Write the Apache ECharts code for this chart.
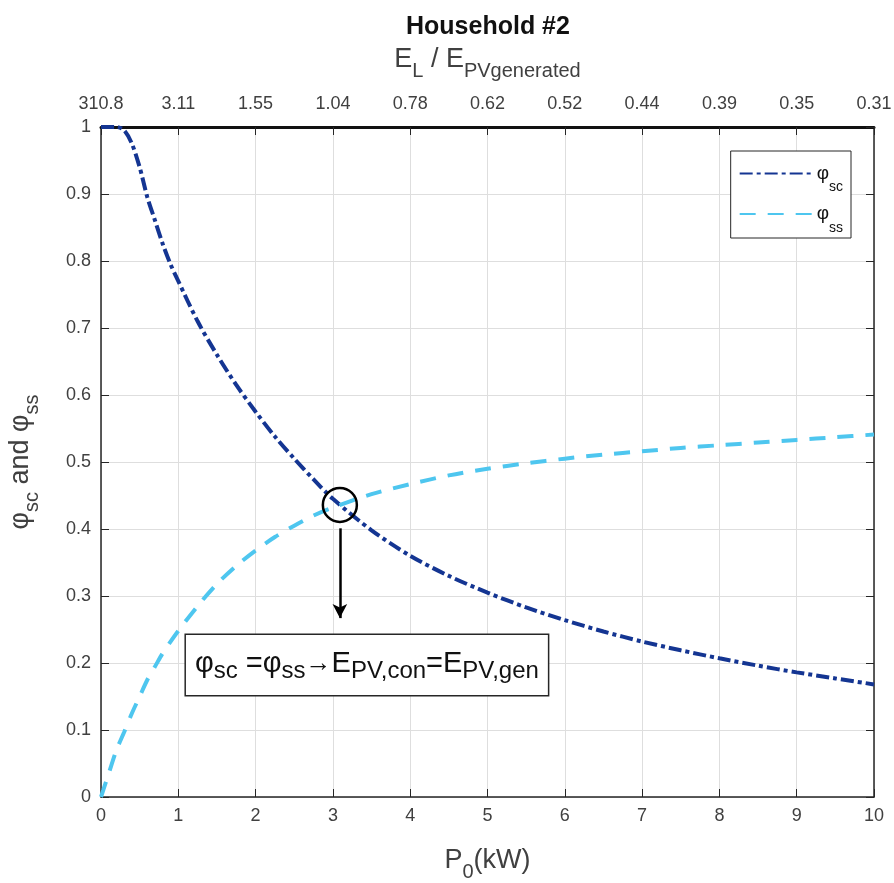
<!DOCTYPE html>
<html>
<head>
<meta charset="utf-8">
<script src="https://cdn.jsdelivr.net/npm/echarts@6/dist/echarts.min.js"></script>
<style>
  html, body { margin: 0; padding: 0; background: #fff; }
  #chart { width: 894px; height: 883px; }
</style>
</head>
<body>
<div id="chart"></div>
<script>
// Installed PV power P0 (kW)
const p0 = [0, 0.1, 0.2, 0.3, 0.4, 0.5, 0.6, 0.7, 0.8, 0.9, 1.0, 1.25, 1.5, 1.75, 2, 2.25, 2.5, 2.75, 3, 3.5, 4, 4.5, 5, 5.5, 6, 6.5, 7, 7.5, 8, 8.5, 9, 9.5, 10];
// Self-consumption ratio
const phiSC = [1, 1, 1, 0.995, 0.975, 0.94, 0.895, 0.86, 0.825, 0.795, 0.77, 0.71, 0.66, 0.615, 0.575, 0.538, 0.505, 0.474, 0.445, 0.398, 0.36, 0.33, 0.305, 0.283, 0.264, 0.247, 0.232, 0.219, 0.207, 0.196, 0.186, 0.177, 0.168];
// Self-sufficiency ratio
const phiSS = [0, 0.035, 0.07, 0.097, 0.125, 0.15, 0.175, 0.195, 0.215, 0.232, 0.248, 0.285, 0.318, 0.345, 0.368, 0.388, 0.405, 0.42, 0.432, 0.452, 0.467, 0.48, 0.49, 0.498, 0.505, 0.511, 0.516, 0.521, 0.525, 0.529, 0.533, 0.537, 0.541];
// Upper axis: E_L / E_PVgenerated at each integer P0
const ratioLabels = ['310.8', '3.11', '1.55', '1.04', '0.78', '0.62', '0.52', '0.44', '0.39', '0.35', '0.31'];
// Crossing point of the two ratios
const crossing = [3.09, 0.436];

const FONT = '"Liberation Sans", Arial, sans-serif';
const AX = '#262626';
const TXT = '#404040';

// Subscript styling: the main token sets a tall line and sits in its middle,
// the subscript token hangs at the bottom of that line.
const subRich = {
  m: { fontFamily: FONT, fontSize: 27, color: TXT, lineHeight: 42, verticalAlign: 'middle' },
  s: { fontFamily: FONT, fontSize: 20, color: TXT, lineHeight: 20, verticalAlign: 'bottom' }
};

const chart = echarts.init(document.getElementById('chart'));

function mkSeries(name, vals, color, dash) {
  return {
    name: name,
    type: 'line',
    xAxisIndex: 0,
    yAxisIndex: 0,
    data: p0.map((x, i) => [x, vals[i]]),
    showSymbol: false,
    symbol: 'none',
    smooth: 0.3,
    lineStyle: { color: color, width: 4, type: dash },
    itemStyle: { color: color }
  };
}

const scSeries = mkSeries('φsc', phiSC, '#143592', [13, 4, 4, 4]);
scSeries.markPoint = {
  silent: true,
  data: [
    {
      coord: crossing,
      symbol: 'circle',
      symbolSize: 34,
      itemStyle: { color: 'rgba(0,0,0,0)', borderColor: '#000', borderWidth: 2.5 },
      label: { show: false }
    },
    {
      coord: [3.44, 0.197],
      symbol: 'circle',
      symbolSize: 0,
      label: {
        show: true,
        position: 'inside',
        formatter: '{m|φ}{s|sc}{m| =φ}{s|ss}{a|→}{m|E}{s|PV,con}{m|=E}{s|PV,gen}',
        backgroundColor: '#fff',
        borderColor: '#262626',
        borderWidth: 1.5,
        padding: [10, 9, 12, 9],
        rich: {
          m: { fontFamily: FONT, fontSize: 29, color: '#111', lineHeight: 38, verticalAlign: 'middle' },
          a: { fontFamily: FONT, fontSize: 26, color: '#111', lineHeight: 38, verticalAlign: 'middle' },
          s: { fontFamily: FONT, fontSize: 24, color: '#111', lineHeight: 28, verticalAlign: 'bottom' }
        }
      }
    }
  ]
};
scSeries.markLine = {
  silent: true,
  symbol: ['none', 'arrow'],
  symbolSize: [11, 14],
  label: { show: false },
  lineStyle: { color: '#000', width: 2.5, type: 'solid' },
  data: [[{ coord: [crossing[0], 0.401] }, { coord: [crossing[0], 0.267] }]]
};

const ssSeries = mkSeries('φss', phiSS, '#4ec6ef', [16, 12]);

chart.setOption({
  animation: false,
  backgroundColor: '#fff',
  title: {
    text: 'Household #2',
    left: 401,
    top: 10,
    textStyle: { fontFamily: FONT, fontSize: 25, fontWeight: 'bold', color: '#111' }
  },
  legend: {
    right: 43,
    top: 151,
    orient: 'vertical',
    itemWidth: 72,
    itemHeight: 14,
    itemGap: 10,
    padding: [13, 8, 3, 8],
    borderColor: '#262626',
    borderWidth: 1,
    backgroundColor: '#fff',
    data: ['φsc', 'φss'],
    itemStyle: { opacity: 0 },
    formatter: function (n) { return '{m|φ}{s|' + n.slice(1) + '}'; },
    textStyle: {
      rich: {
        m: { fontFamily: FONT, fontSize: 19, color: '#111', lineHeight: 42, verticalAlign: 'middle' },
        s: { fontFamily: FONT, fontSize: 14, color: '#111', lineHeight: 22, verticalAlign: 'bottom' }
      }
    }
  },
  grid: { left: 101, right: 20, top: 127, bottom: 86, containLabel: false, outerBoundsMode: 'none' },
  xAxis: [
    {
      type: 'value', position: 'bottom', min: 0, max: 10, interval: 1,
      name: '{m|P}{s|0}{m|(kW)}', nameLocation: 'middle', nameGap: 43,
      nameTextStyle: { rich: subRich },
      axisLine: { show: true, onZero: false, lineStyle: { color: AX, width: 1.5 } },
      axisTick: { show: true, inside: true, length: 8, lineStyle: { color: AX } },
      axisLabel: { margin: 10, fontFamily: FONT, fontSize: 18, color: TXT },
      splitLine: { show: true, lineStyle: { color: '#dedede', width: 1 } }
    },
    {
      type: 'value', position: 'top', min: 0, max: 10, interval: 1,
      name: '{m|E}{s|L}{m| / E}{s|PVgenerated}', nameLocation: 'middle', nameGap: 46,
      nameTextStyle: { rich: subRich },
      axisLine: { show: true, onZero: false, lineStyle: { color: '#111', width: 3 } },
      axisTick: { show: true, inside: true, length: 8, lineStyle: { color: AX } },
      axisLabel: {
        margin: 14, fontFamily: FONT, fontSize: 18, color: TXT,
        formatter: function (v) { return ratioLabels[Math.round(v)]; }
      },
      splitLine: { show: false }
    }
  ],
  yAxis: [
    {
      type: 'value', position: 'left', min: 0, max: 1, interval: 0.1,
      name: '{m|φ}{s|sc}{m| and φ}{s|ss}', nameLocation: 'middle', nameGap: 59, nameRotate: 90,
      nameTextStyle: { rich: subRich },
      axisLine: { show: true, onZero: false, lineStyle: { color: AX, width: 1.5 } },
      axisTick: { show: true, inside: true, length: 8, lineStyle: { color: AX } },
      axisLabel: {
        margin: 10, fontFamily: FONT, fontSize: 18, color: TXT,
        formatter: function (v) { return String(Math.round(v * 10) / 10); }
      },
      splitLine: { show: true, lineStyle: { color: '#dedede', width: 1 } }
    },
    {
      type: 'value', position: 'right', min: 0, max: 1, interval: 0.1,
      axisLine: { show: true, onZero: false, lineStyle: { color: AX, width: 1.5 } },
      axisTick: { show: true, inside: true, length: 8, lineStyle: { color: AX } },
      axisLabel: { show: false },
      splitLine: { show: false }
    }
  ],
  series: [scSeries, ssSeries]
});
</script>
</body>
</html>
